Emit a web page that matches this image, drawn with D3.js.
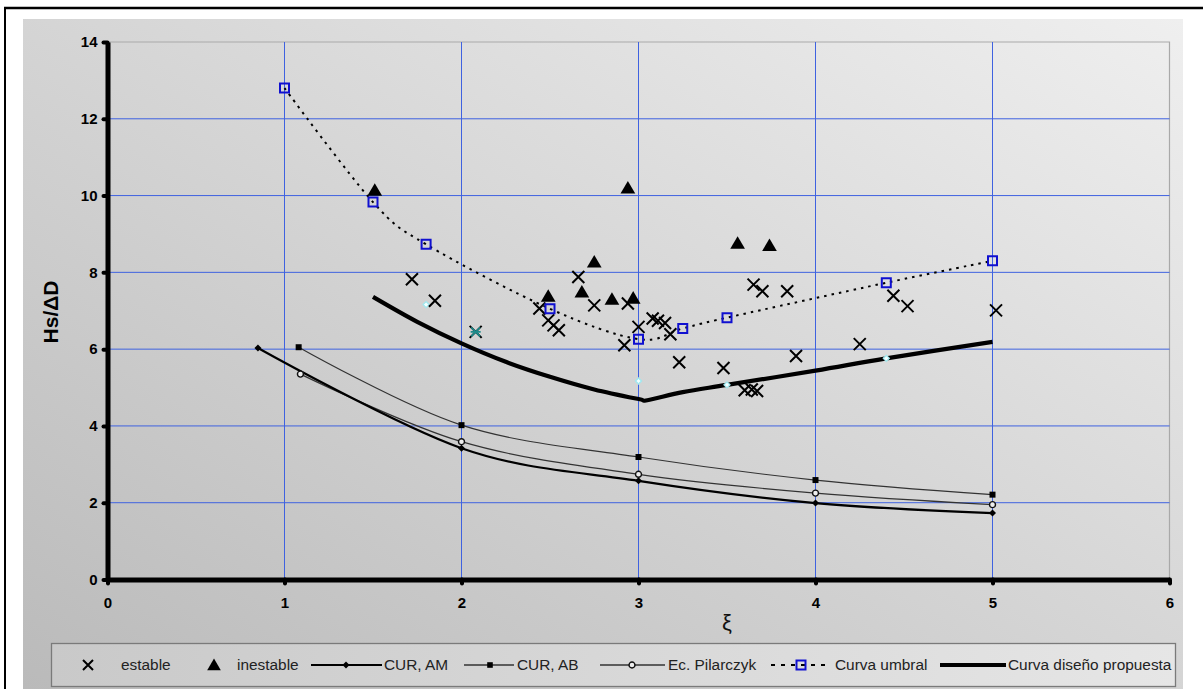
<!DOCTYPE html>
<html>
<head>
<meta charset="utf-8">
<script src="https://cdn.jsdelivr.net/npm/d3@7"></script>
<style>
  body { margin: 0; background: #fff; }
  svg { display: block; }
  text { font-family: Arial, "Liberation Sans", sans-serif; }
</style>
</head>
<body>
<svg id="chart" width="1203" height="689"></svg>
<script>
// ---- data ----
const xTicks = [0, 1, 2, 3, 4, 5, 6];
const yTicks = [0, 2, 4, 6, 8, 10, 12, 14];

// measured points
const estableX = [1.72, 1.85, 2.08, 2.44, 2.49, 2.52, 2.55, 2.66, 2.75, 2.94, 3.0, 2.92, 3.08, 3.11, 3.15, 3.18, 3.23, 3.48, 3.60, 3.64, 3.67, 3.65, 3.70, 3.84, 3.89, 4.25, 4.44, 4.52, 5.02];
const estableY = [7.82, 7.26, 6.45, 7.06, 6.75, 6.62, 6.49, 7.88, 7.14, 7.19, 6.58, 6.10, 6.80, 6.74, 6.68, 6.39, 5.66, 5.51, 4.93, 4.95, 4.91, 7.68, 7.51, 7.51, 5.82, 6.13, 7.39, 7.12, 7.01];
const inestableX = [1.51, 2.49, 2.68, 2.75, 2.85, 2.94, 2.97, 3.56, 3.74];
const inestableY = [10.14, 7.38, 7.49, 8.27, 7.30, 10.20, 7.33, 8.76, 8.70];

// reference formulas
const curAmX = [0.85, 2, 3, 4, 5];
const curAmY = [6.03, 3.42, 2.57, 1.99, 1.73];
const curAbX = [1.08, 2, 3, 4, 5];
const curAbY = [6.05, 4.02, 3.19, 2.59, 2.21];
const pilarczykX = [1.09, 2, 3, 4, 5];
const pilarczykY = [5.35, 3.59, 2.74, 2.25, 1.95];

// threshold and proposed design curves
const umbralX = [1, 1.5, 1.8, 2.5, 3, 3.25, 3.5, 4.4, 5];
const umbralY = [12.8, 9.83, 8.73, 7.05, 6.26, 6.54, 6.82, 7.73, 8.30];
const disenoX = [1.5, 1.75, 2, 2.25, 2.5, 2.75, 3, 3.05, 3.25, 3.5, 4, 4.4, 5];
const disenoY = [7.36, 6.71, 6.15, 5.67, 5.28, 4.95, 4.70, 4.67, 4.88, 5.07, 5.44, 5.76, 6.19];

// design-curve check points and single extra test point
const calcX = [1.8, 3, 3.5, 4.4];
const calcY = [7.16, 5.17, 5.07, 5.76];
const estrellaX = [2.08];
const estrellaY = [6.45];

const zip = (xs, ys) => xs.map((x, i) => ({ x, y: ys[i] }));

// ---- layout ----
const W = 1203, H = 689;
const plot = { left: 107.5, right: 1169.5, top: 42, bottom: 579.5 };

const svg = d3.select("#chart");
const x = d3.scaleLinear().domain([0, 6]).range([plot.left, plot.right]);
const y = d3.scaleLinear().domain([0, 14]).range([plot.bottom, plot.top]);

const defs = svg.append("defs");
const bg = defs.append("linearGradient").attr("id", "bgGrad")
  .attr("x1", "0").attr("y1", "1").attr("x2", "1").attr("y2", "0");
bg.append("stop").attr("offset", "0%").attr("stop-color", "#bababa");
bg.append("stop").attr("offset", "100%").attr("stop-color", "#efefef");

const lg = defs.append("linearGradient").attr("id", "legGrad")
  .attr("x1", "0").attr("y1", "0").attr("x2", "1").attr("y2", "0");
lg.append("stop").attr("offset", "0%").attr("stop-color", "#c9c9c9");
lg.append("stop").attr("offset", "100%").attr("stop-color", "#e6e6e6");

// page frame
svg.append("rect").attr("width", W).attr("height", H).attr("fill", "#fff");
svg.append("rect").attr("x", 23).attr("y", 19).attr("width", 1160).attr("height", H - 19)
  .attr("fill", "url(#bgGrad)");
svg.append("line").attr("x1", 5).attr("x2", 5).attr("y1", 7).attr("y2", H)
  .attr("stroke", "#000").attr("stroke-width", 2);
svg.append("line").attr("x1", 4).attr("x2", W).attr("y1", 8).attr("y2", 8)
  .attr("stroke", "#000").attr("stroke-width", 2.5);

// plot frame (top/right)
svg.append("path")
  .attr("d", `M${plot.left},${plot.top}H${plot.right}V${plot.bottom}`)
  .attr("fill", "none").attr("stroke", "#a9a9a9").attr("stroke-width", 1.2);

// grid
const grid = svg.append("g").attr("stroke", "#3f62e0").attr("stroke-width", 1);
grid.selectAll(".gx").data(xTicks.filter(d => d > 0 && d < 6)).join("line")
  .attr("x1", d => x(d)).attr("x2", d => x(d)).attr("y1", plot.top).attr("y2", plot.bottom);
grid.selectAll(".gy").data(yTicks.filter(d => d > 0 && d < 14)).join("line")
  .attr("y1", d => y(d)).attr("y2", d => y(d)).attr("x1", plot.left).attr("x2", plot.right);

// axes
const yAxis = svg.append("g").attr("transform", `translate(${plot.left},0)`)
  .call(d3.axisLeft(y).tickValues(yTicks).tickFormat(d3.format("d"))
    .tickSize(4).tickSizeOuter(0).tickPadding(6));
const xAxis = svg.append("g").attr("transform", `translate(0,${plot.bottom})`)
  .call(d3.axisBottom(x).tickValues(xTicks).tickFormat(d3.format("d"))
    .tickSize(4).tickSizeOuter(0).tickPadding(14));
[yAxis, xAxis].forEach(g => {
  g.select(".domain").attr("stroke", "#000").attr("stroke-width", 5);
  g.selectAll(".tick line").attr("stroke", "#000").attr("stroke-width", 4).attr("stroke-linecap", "round");
  g.selectAll(".tick text").attr("fill", "#000").attr("font-size", 15).attr("font-weight", "bold")
    .attr("font-family", "Arial, 'Liberation Sans', sans-serif");
});

// axis titles
svg.append("text").attr("x", x(3.5)).attr("y", 630).attr("text-anchor", "middle")
  .attr("font-size", 22).attr("fill", "#111").text("ξ");
svg.append("text").attr("transform", `translate(58,312) rotate(-90)`)
  .attr("text-anchor", "middle").attr("font-size", 21).attr("font-weight", "bold")
  .attr("fill", "#000").text("Hs/ΔD");

// ---- series ----
const smooth = d3.line().x(d => x(d.x)).y(d => y(d.y)).curve(d3.curveCatmullRom.alpha(0));

const lines = svg.append("g").attr("fill", "none");
lines.append("path").attr("d", smooth(zip(curAbX, curAbY))).attr("stroke", "#333").attr("stroke-width", 1.2);
lines.append("path").attr("d", smooth(zip(pilarczykX, pilarczykY))).attr("stroke", "#333").attr("stroke-width", 1.2);
lines.append("path").attr("d", smooth(zip(curAmX, curAmY))).attr("stroke", "#000").attr("stroke-width", 2.2);
lines.append("path").attr("d", smooth(zip(disenoX, disenoY))).attr("stroke", "#000").attr("stroke-width", 4.2);
lines.append("path").attr("d", smooth(zip(umbralX, umbralY))).attr("stroke", "#000")
  .attr("stroke-width", 2).attr("stroke-dasharray", "2.5,5");

// marker shapes
const xMark = r => `M${-r},${-r}L${r},${r}M${-r},${r}L${r},${-r}`;
const triMark = r => `M0,${-r}L${r * 1.05},${r * 0.8}L${-r * 1.05},${r * 0.8}Z`;
const diaMark = r => `M0,${-r}L${r},0L0,${r}L${-r},0Z`;
const sqMark = r => `M${-r},${-r}H${r}V${r}H${-r}Z`;

const marks = svg.append("g");
function drawMarks(data, d, attrs) {
  const sel = marks.append("g").selectAll("path").data(data).join("path")
    .attr("transform", p => `translate(${x(p.x)},${y(p.y)})`).attr("d", d);
  Object.entries(attrs).forEach(([k, v]) => sel.attr(k, v));
}

drawMarks(zip(curAmX, curAmY), diaMark(3.5), { fill: "#000" });
drawMarks(zip(curAbX, curAbY), sqMark(3), { fill: "#000" });
drawMarks(zip(pilarczykX, pilarczykY), d3.symbol(d3.symbolCircle, 28)(), { fill: "#eee", stroke: "#111", "stroke-width": 1.4 });
drawMarks(zip(calcX, calcY), diaMark(3), { fill: "#f4ffff", stroke: "#9fe8ef", "stroke-width": 1.3 });
drawMarks(zip(estableX, estableY), xMark(6), { fill: "none", stroke: "#000", "stroke-width": 2 });
drawMarks(zip(estrellaX, estrellaY), `M-4.5,-4.5L4.5,4.5M-4.5,4.5L4.5,-4.5M-5,0H5`, { fill: "none", stroke: "#1d8a8a", "stroke-width": 1.6 });
drawMarks(zip(inestableX, inestableY), triMark(7), { fill: "#000" });
drawMarks(zip(umbralX, umbralY), sqMark(4.5), { fill: "none", stroke: "#1010d0", "stroke-width": 2 });

// ---- legend ----
const leg = svg.append("g");
leg.append("rect").attr("x", 51.5).attr("y", 643.5).attr("width", 1124).attr("height", 43)
  .attr("fill", "url(#legGrad)").attr("stroke", "#7a7a7a").attr("stroke-width", 1.3);
const ly = 665;
const legText = (tx, s) => leg.append("text").attr("x", tx).attr("y", ly).attr("dy", "0.35em")
  .attr("font-size", 15.4).attr("fill", "#222").text(s);
const legLine = (x1, x2, attrs) => {
  const l = leg.append("line").attr("x1", x1).attr("x2", x2).attr("y1", ly).attr("y2", ly);
  Object.entries(attrs).forEach(([k, v]) => l.attr(k, v));
};
const legMark = (cx, d, attrs) => {
  const p = leg.append("path").attr("transform", `translate(${cx},${ly})`).attr("d", d);
  Object.entries(attrs).forEach(([k, v]) => p.attr(k, v));
};

legMark(88, xMark(5), { fill: "none", stroke: "#000", "stroke-width": 2 });
legText(121, "estable");
legMark(214, triMark(6.5), { fill: "#000" });
legText(237, "inestable");
legLine(311, 382, { stroke: "#000", "stroke-width": 2 });
legMark(346, diaMark(3.5), { fill: "#000" });
legText(384, "CUR, AM");
legLine(464, 514, { stroke: "#333", "stroke-width": 1.3 });
legMark(490, sqMark(2.8), { fill: "#000" });
legText(517, "CUR, AB");
legLine(600, 665, { stroke: "#333", "stroke-width": 1.3 });
legMark(632, d3.symbol(d3.symbolCircle, 28)(), { fill: "#eee", stroke: "#111", "stroke-width": 1.4 });
legText(668, "Ec. Pilarczyk");
legLine(771, 831, { stroke: "#000", "stroke-width": 2, "stroke-dasharray": "4,6" });
legMark(801, sqMark(4.5), { fill: "none", stroke: "#1010d0", "stroke-width": 2 });
legText(835, "Curva umbral");
legLine(940, 1006, { stroke: "#000", "stroke-width": 4 });
legText(1008, "Curva diseño propuesta");
</script>
</body>
</html>
